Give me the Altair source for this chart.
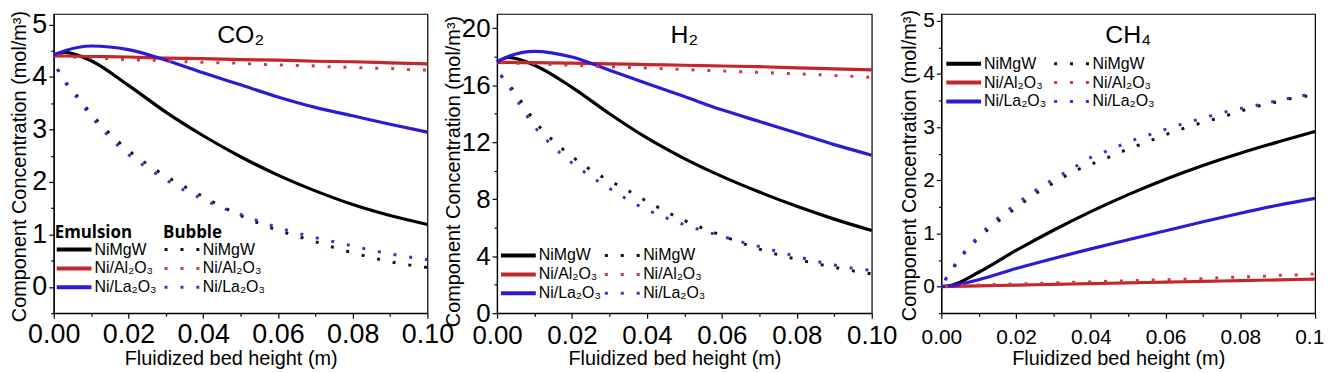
import altair as alt
import pandas as pd

FONT = "Liberation Sans"
TICK_FONT = "Liberation Sans Narrow, Liberation Sans"
CATALYSTS = ["NiMgW", "Ni/Al₂O₃", "Ni/La₂O₃"]
COLORS_E = ["#000000", "#c1272d", "#2b1bd6"]
COLORS_B = ["#111111", "#d2383a", "#3a2fe0"]

X_MAJOR = [0.0, 0.02, 0.04, 0.06, 0.08, 0.10]
X_MINOR = [0.01, 0.03, 0.05, 0.07, 0.09]

# x positions of the emulsion (solid) and bubble (dotted) curves
X_E = [0.0, 0.003, 0.01, 0.02, 0.03, 0.04, 0.05, 0.06, 0.07, 0.08, 0.09, 0.10]
X_B = [0.001, 0.003, 0.005, 0.01, 0.015, 0.02, 0.025, 0.03, 0.035, 0.04, 0.045,
       0.05, 0.055, 0.06, 0.065, 0.07, 0.075, 0.08, 0.085, 0.09, 0.095, 0.10]

# ---- CO2 ----
CO2_E_NIMGW = [4.42, 4.47, 4.31, 3.84, 3.33, 2.88, 2.48, 2.13, 1.83, 1.57, 1.36, 1.19]
CO2_E_AL = [4.40, 4.40, 4.39, 4.38, 4.36, 4.35, 4.33, 4.32, 4.30, 4.29, 4.27, 4.25]
CO2_E_LA = [4.42, 4.50, 4.59, 4.52, 4.32, 4.08, 3.85, 3.62, 3.42, 3.26, 3.10, 2.95]
CO2_B_NIMGW = [4.15, 3.92, 3.75, 3.30, 2.92, 2.60, 2.34, 2.11, 1.91, 1.72, 1.53,
               1.36, 1.21, 1.08, 0.97, 0.86, 0.75, 0.65, 0.56, 0.48, 0.42, 0.37]
CO2_B_AL = [4.40, 4.39, 4.38, 4.36, 4.35, 4.33, 4.32, 4.31, 4.29, 4.28, 4.27,
            4.26, 4.24, 4.23, 4.22, 4.21, 4.19, 4.18, 4.17, 4.16, 4.14, 4.13]
CO2_B_LA = [4.15, 3.90, 3.72, 3.25, 2.85, 2.52, 2.27, 2.04, 1.84, 1.67, 1.51,
            1.38, 1.25, 1.13, 1.03, 0.94, 0.86, 0.78, 0.70, 0.63, 0.57, 0.52]

# ---- H2 ----
H2_E_NIMGW = [17.63, 17.95, 17.40, 15.85, 14.00, 12.30, 10.85, 9.60, 8.50, 7.50, 6.60, 5.80]
H2_E_AL = [17.60, 17.60, 17.58, 17.55, 17.50, 17.45, 17.40, 17.35, 17.30, 17.22, 17.15, 17.08]
H2_E_LA = [17.63, 18.02, 18.38, 17.98, 17.05, 16.12, 15.20, 14.27, 13.46, 12.65, 11.83, 11.09]
H2_B_NIMGW = [16.7, 16.1, 15.4, 13.5, 12.1, 11.0, 10.05, 9.3, 8.6, 7.85, 7.15,
              6.5, 5.95, 5.45, 4.95, 4.5, 4.1, 3.78, 3.48, 3.22, 2.97, 2.75]
H2_B_AL = [17.58, 17.57, 17.55, 17.50, 17.45, 17.40, 17.35, 17.30, 17.25, 17.20, 17.15,
           17.10, 17.05, 17.00, 16.95, 16.90, 16.85, 16.80, 16.75, 16.68, 16.62, 16.55]
H2_B_LA = [16.7, 16.0, 15.1, 13.1, 11.7, 10.55, 9.6, 8.75, 7.95, 7.25, 6.7,
           6.2, 5.78, 5.4, 5.02, 4.68, 4.32, 3.98, 3.65, 3.38, 3.15, 3.0]

# ---- CH4 ----
CH4_E_NIMGW = [0.0, 0.03, 0.27, 0.68, 1.06, 1.41, 1.73, 2.02, 2.28, 2.51, 2.72, 2.92]
CH4_E_AL = [0.0, 0.004, 0.014, 0.028, 0.042, 0.056, 0.07, 0.084, 0.098, 0.112, 0.126, 0.14]
CH4_E_LA = [0.0, 0.02, 0.13, 0.34, 0.53, 0.71, 0.88, 1.05, 1.22, 1.38, 1.53, 1.66]
CH4_B_NIMGW = [0.12, 0.33, 0.53, 0.92, 1.22, 1.48, 1.74, 1.95, 2.15, 2.30, 2.44,
               2.59, 2.72, 2.86, 2.98, 3.09, 3.19, 3.30, 3.40, 3.48, 3.56, 3.60]
CH4_B_AL = [0.0, 0.01, 0.02, 0.03, 0.04, 0.05, 0.06, 0.07, 0.08, 0.09, 0.10,
            0.11, 0.12, 0.13, 0.14, 0.15, 0.17, 0.18, 0.19, 0.21, 0.22, 0.24]
CH4_B_LA = [0.13, 0.35, 0.55, 0.95, 1.28, 1.55, 1.80, 2.02, 2.22, 2.43, 2.57,
            2.72, 2.84, 2.96, 3.07, 3.17, 3.27, 3.35, 3.42, 3.50, 3.57, 3.64]

PANEL_TITLES = ["CO₂", "H₂", "CH₄"]
Y_TITLE = "Component Concentration (mol/m³)"
X_TITLE = "Fluidized bed height (m)"


def make_df(xs, series, field):
    rows = []
    for name, ys in zip(CATALYSTS, series):
        for x, y in zip(xs, ys):
            rows.append({"x": x, "y": y, field: name})
    return pd.DataFrame(rows)


def panel(title, emul, bub, ydom, ymajor, yminor, w, h, tick_fs, xlab_pad, ytx, yty,
          leg_e, leg_b, show_heads):
    df_e = make_df(X_E, emul, "Emulsion")
    df_b = make_df(X_B, bub, "Bubble")
    xsc = alt.Scale(domain=[0, 0.1], nice=False, zero=False)
    ysc = alt.Scale(domain=ydom, nice=False, zero=False)

    common_leg = dict(orient="none", direction="vertical", symbolType="stroke",
                      symbolSize=1225, clipHeight=16, labelFont=FONT, labelFontSize=16,
                      labelColor="black", padding=0, rowPadding=3,
                      titleFont="Open Sans", titleFontSize=17, titleFontWeight="bold",
                      titleColor="black", titlePadding=0, labelLimit=200)
    le = dict(common_leg)
    lb = dict(common_leg)
    if show_heads:
        le["title"] = "Emulsion"
        lb["title"] = "Bubble"
    else:
        le["title"] = None
        lb["title"] = None

    emul_layer = alt.Chart(df_e).mark_line(strokeWidth=3.2, interpolate="monotone").encode(
        x=alt.X("x:Q", scale=xsc, axis=alt.Axis(
            values=X_MAJOR, format=".2f", labelFontSize=tick_fs, labelFont=TICK_FONT,
            labelFlush=False, labelOverlap=False, tickSize=5, labelPadding=xlab_pad,
            title=X_TITLE, titleFont=FONT, titleFontSize=20, titleFontWeight="normal",
            titleX=w / 2 - 10, titleY=46, titleBaseline="middle", grid=False,
            orient="bottom")),
        y=alt.Y("y:Q", scale=ysc, axis=alt.Axis(
            values=ymajor, format="d", labelFontSize=tick_fs, labelFont=TICK_FONT,
            labelFlush=False, labelOverlap=False, tickSize=5, labelPadding=2,
            title=Y_TITLE, titleFont=FONT, titleFontSize=20, titleFontWeight="normal",
            titleX=ytx, titleY=yty, titleAngle=270, titleAlign="center",
            titleBaseline="middle", grid=False, orient="left")),
        color=alt.Color("Emulsion:N", scale=alt.Scale(domain=CATALYSTS, range=COLORS_E),
                        legend=alt.Legend(legendX=leg_e[0], legendY=leg_e[1],
                                          symbolStrokeWidth=4, labelOffset=1, **le)),
    )
    bub_layer = alt.Chart(df_b).mark_line(strokeWidth=3, strokeDash=[3, 13], strokeCap="butt",
                                          interpolate="monotone").encode(
        x=alt.X("x:Q", scale=xsc, axis=None),
        y=alt.Y("y:Q", scale=ysc, axis=None),
        color=alt.Color("Bubble:N", scale=alt.Scale(domain=CATALYSTS, range=COLORS_B),
                        legend=alt.Legend(legendX=leg_b[0], legendY=leg_b[1],
                                          symbolStrokeWidth=3, symbolDash=[3, 13],
                                          labelOffset=2, **lb)),
    )
    minor_layer = alt.Chart(df_e).mark_line(opacity=0).encode(
        x=alt.X("x:Q", scale=xsc, axis=alt.Axis(
            values=X_MINOR, labels=False, tickSize=3, domain=False, grid=False,
            title=None, orient="bottom")),
        y=alt.Y("y:Q", scale=ysc, axis=alt.Axis(
            values=yminor, labels=False, tickSize=3, domain=False, grid=False,
            title=None, orient="left")),
    )
    title_layer = alt.Chart(pd.DataFrame({"label": [title]})).mark_text(
        font=FONT, fontSize=25, color="black", align="center", baseline="middle").encode(
        text="label:N", x=alt.value(w / 2), y=alt.value(21))
    return alt.layer(emul_layer, bub_layer, minor_layer, title_layer).resolve_scale(
        color="independent").resolve_axis(x="independent", y="independent").properties(
        width=w, height=h)


H = 301
p1 = panel(PANEL_TITLES[0], [CO2_E_NIMGW, CO2_E_AL, CO2_E_LA], [CO2_B_NIMGW, CO2_B_AL, CO2_B_LA],
           [-0.5, 5.2], [0, 1, 2, 3, 4, 5], [-0.5, 0.5, 1.5, 2.5, 3.5, 4.5], 376, H, 27, 4,
           -34, 153, (1, 212), (110, 212), True)
p2 = panel(PANEL_TITLES[1], [H2_E_NIMGW, H2_E_AL, H2_E_LA], [H2_B_NIMGW, H2_B_AL, H2_B_LA],
           [0, 21], [0, 4, 8, 12, 16, 20], [2, 6, 10, 14, 18], 377, H, 26, 5,
           -44, 158, (2, 235), (107, 235), False)
p3 = panel(PANEL_TITLES[2], [CH4_E_NIMGW, CH4_E_AL, CH4_E_LA], [CH4_B_NIMGW, CH4_B_AL, CH4_B_LA],
           [-0.5, 5.13], [0, 1, 2, 3, 4, 5], [-0.5, 0.5, 1.5, 2.5, 3.5, 4.5], 376, H, 21, 9,
           -32, 152, (3, 42), (112, 42), False)

chart = alt.hconcat(p1, p2, p3, spacing=70, bounds="flush").resolve_scale(
    color="independent").properties(
    autosize=alt.AutoSizeParams(type="none"),
    padding={"left": 46, "top": 4, "right": 1279, "bottom": 358}).configure_view(
    stroke="black", strokeWidth=1.2).configure_axis(
    domainColor="black", tickColor="black", labelColor="black", titleColor="black",
    domainWidth=1.2, tickWidth=1.2)

chart.save("out.html", embed_options={"renderer": "svg", "actions": False})
